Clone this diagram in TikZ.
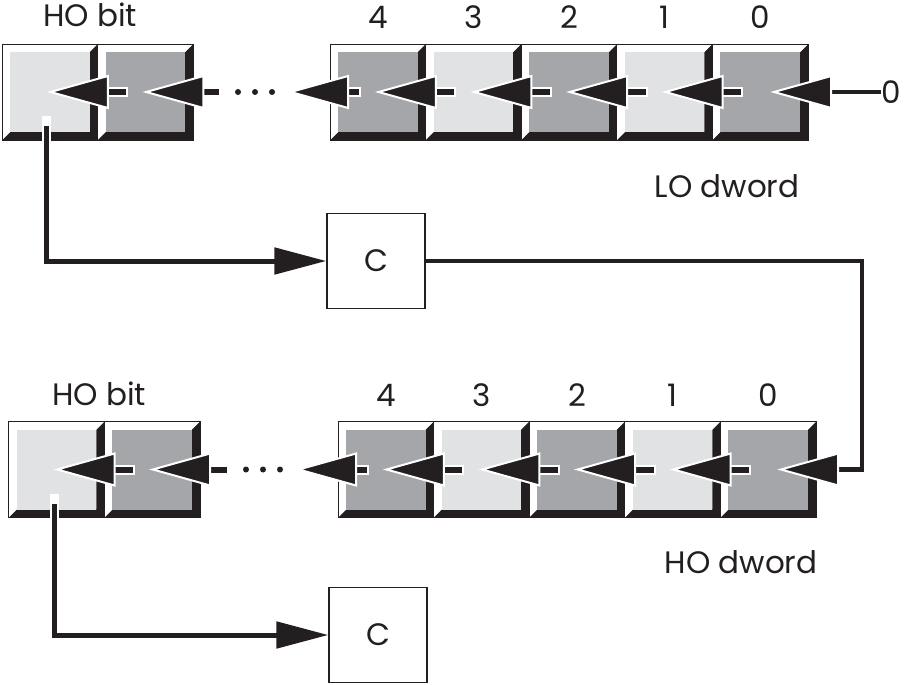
\documentclass[tikz,border=0pt]{standalone}
\usepackage{fontspec}
\setmainfont{Poppins}
\usetikzlibrary{arrows.meta}
\definecolor{ink}{HTML}{231F20}
\definecolor{facelight}{HTML}{E1E2E4}
\definecolor{facedark}{HTML}{A5A6A9}
\newcommand\ppbox{path picture bounding box}

\begin{document}
\begin{tikzpicture}[x=1pt,y=-1pt,
lbl/.style={font=\fontsize{31}{36}\selectfont,text=ink,inner sep=0,anchor=base},
bitcell/.style={draw=ink,line width=0.8,minimum width=95.6,minimum height=96,inner sep=0,
  path picture={
    \fill[ink] (\ppbox.north east) -- (\ppbox.south east) -- (\ppbox.south west)
      -- ([shift={(8,-8)}]\ppbox.south west) -- ([shift={(-8,-8)}]\ppbox.south east)
      -- ([shift={(-8,8)}]\ppbox.north east) -- cycle;
    \fill[white] (\ppbox.south west) -- (\ppbox.north west) -- (\ppbox.north east)
      -- ([shift={(-8,8)}]\ppbox.north east) -- ([shift={(8,8)}]\ppbox.north west)
      -- ([shift={(8,-8)}]\ppbox.south west) -- cycle;
    \fill[#1] ([shift={(8,8)}]\ppbox.north west) rectangle ([shift={(-8,-8)}]\ppbox.south east);
  }},
cbox/.style={draw=ink,line width=1.2,minimum width=98,minimum height=95,inner sep=0,
  font=\fontsize{31}{36}\selectfont,text=ink},
shiftarrow/.style={draw=ink,line width=6,
  -{Triangle[length=62pt,width=34pt,color=white,fill=ink,line width=2pt]},
  preaction={draw=white,line width=10,-,shorten <=-2pt,shorten >=30pt}},
inarrow/.style={draw=ink,line width=4.5,
  -{Triangle[length=62pt,width=34pt,color=white,fill=ink,line width=2pt]}},
carryline/.style={draw=ink,line width=5,-{Triangle[length=52pt,width=26pt]},shorten <=10pt,
  preaction={draw=white,line width=9,-,shorten <=0pt,shorten >=30pt}}
]
\useasboundingbox (0,0) rectangle (906,685);

% the two rows of bits
\foreach \r/\y/\xh/\xb/\xd in {t/92/49.8/377.8/255, l/469.5/56.5/385.8/263}{
  \node[bitcell=facelight] (\r h1) at (\xh,\y) {};
  \node[bitcell=facedark] (\r h2) at ({\xh+95.6},\y) {};
  \foreach \i/\f in {4/facedark,3/facelight,2/facedark,1/facelight,0/facedark}{
    \node[bitcell=\f] (\r b\i) at ({\xb+(4-\i)*95.6},\y) {};
    \node[lbl] (\r n\i) at ({\xb+(4-\i)*95.6},{\y-63}) {\i};
  }
  \coordinate (\r dots) at (\xd,\y);
  \foreach \d in {-17,0,17} \fill[ink] ([xshift=\d]\r dots) circle (3);
  % shift arrows
  \foreach \i in {0,...,3}{
    \pgfmathtruncatemacro\j{\i+1}
    \draw[shiftarrow] ([xshift=-19]\r b\i.center) -- ([xshift=-3]\r b\j.center);
  }
  \draw[shiftarrow] ([xshift=-19]\r b4.center) -- ([xshift=32]\r dots);
  \draw[shiftarrow] ([xshift=-36]\r dots) -- ([xshift=-3]\r h2.center);
  \draw[shiftarrow] ([xshift=-19]\r h2.center) -- ([xshift=-3]\r h1.center);
}

% labels
\node[lbl] (hobit) at (90,27) {HO bit};
\node[lbl] (lhobit) at (99,405) {HO bit};
\node[lbl] (lodword) at (727,197) {LO dword};
\node[lbl] (hodword) at (741,573) {HO dword};
\node[lbl,anchor=center] (zero) at (891,92) {0};

% carry flag
\node[cbox] (c1) at (376,261) {C};
\node[cbox] (c2) at (378,635) {C};
\coordinate (bend) at (862,469.5);

\draw[inarrow] (zero.west) -- ([xshift=10]tb0.center);
\draw[carryline] ([shift={(-3,24)}]th1.center) |- (c1.west);
\draw[inarrow] (c1.east) -| (bend) -- ([xshift=9]lb0.center);
\draw[carryline] ([shift={(-2,24)}]lh1.center) |- (c2.west);
\end{tikzpicture}
\end{document}
